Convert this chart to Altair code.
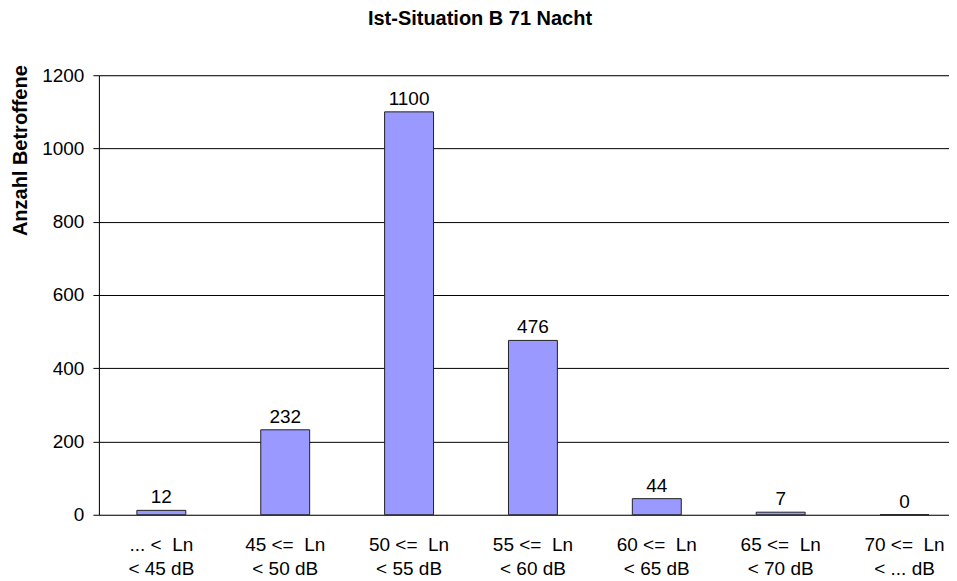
import altair as alt
import pandas as pd

NB = "\u00a0"
categories = [
    "..." + NB + "<" + NB + NB + "Ln\n<" + NB + "45" + NB + "dB",
    "45" + NB + "<=" + NB + NB + "Ln\n<" + NB + "50" + NB + "dB",
    "50" + NB + "<=" + NB + NB + "Ln\n<" + NB + "55" + NB + "dB",
    "55" + NB + "<=" + NB + NB + "Ln\n<" + NB + "60" + NB + "dB",
    "60" + NB + "<=" + NB + NB + "Ln\n<" + NB + "65" + NB + "dB",
    "65" + NB + "<=" + NB + NB + "Ln\n<" + NB + "70" + NB + "dB",
    "70" + NB + "<=" + NB + NB + "Ln\n<" + NB + "..." + NB + "dB",
]
values = [12, 232, 1100, 476, 44, 7, 0]
y_ticks = [0, 200, 400, 600, 800, 1000, 1200]

df = pd.DataFrame({"cat": categories, "val": values})

FONT = "Liberation Sans"

x_enc = alt.X(
    "cat:N",
    sort=None,
    scale=alt.Scale(paddingInner=0.605, paddingOuter=0.234, align=0.655),
    axis=alt.Axis(
        title=None,
        labelAngle=0,
        labelExpr="split(datum.value, '\\n')",
        labelFont=FONT,
        labelFontSize=19,
        labelColor="black",
        labelLineHeight=24,
        labelBaseline="top",
        labelPadding=21,
        ticks=False,
        tickSize=0,
        domain=False,
        grid=False,
    ),
)

y_enc = alt.Y(
    "val:Q",
    scale=alt.Scale(domain=[0, 1200], nice=False),
    axis=alt.Axis(
        title="Anzahl Betroffene",
        titleFont=FONT,
        titleFontSize=20,
        titleFontWeight="bold",
        titleColor="black",
        titleX=-78,
        titleY=75,
        titleAlign="center",
        titleBaseline="middle",
        values=y_ticks,
        format="d",
        labelFont=FONT,
        labelFontSize=19,
        labelColor="black",
        labelPadding=9,
        tickSize=6,
        tickColor="black",
        domainColor="black",
        gridColor="black",
        gridOpacity=1,
        gridWidth=1,
    ),
)

bars = alt.Chart(df).mark_bar(
    color="#9999FF", stroke="#222222", strokeWidth=1
).encode(x=x_enc, y=y_enc)

labels = alt.Chart(df).mark_text(
    font=FONT, fontSize=19, color="black", baseline="alphabetic", dy=-7
).encode(
    x=alt.X("cat:N", sort=None),
    y=alt.Y("val:Q"),
    text=alt.Text("val:Q"),
)

chart = (
    alt.layer(bars, labels)
    .properties(
        width=851,
        height=440,
        padding={"left": 2, "top": 0, "right": 0, "bottom": 0},
        title=alt.TitleParams(
            "Ist-Situation B 71 Nacht",
            font=FONT,
            fontSize=20,
            fontWeight="bold",
            color="black",
            anchor="middle",
            frame="bounds",
            offset=36,
        ),
    )
    .configure_view(stroke=None)
    .configure(background="white")
)

chart.save("out.html", embed_options={"renderer": "svg", "actions": False})
